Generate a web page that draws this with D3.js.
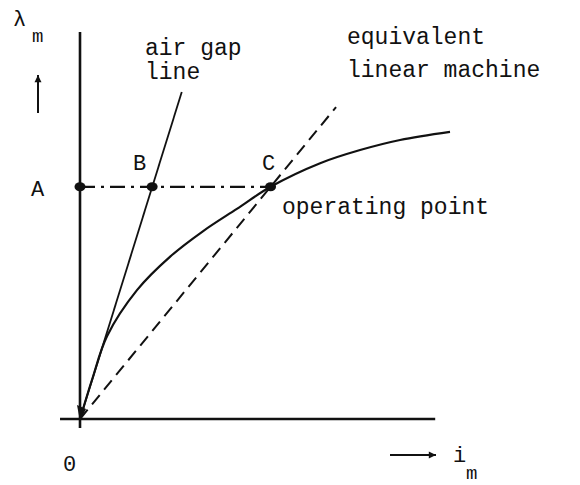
<!DOCTYPE html>
<html>
<head>
<meta charset="utf-8">
<script src="https://cdn.jsdelivr.net/npm/d3@7"></script>
<style>
  html, body { margin: 0; padding: 0; background: #fff; }
  svg { display: block; }
  text { font-family: "Courier New", Courier, "Liberation Mono", monospace; fill: #111; }
</style>
</head>
<body>
<svg id="chart" width="580" height="485"></svg>
<script>
// Magnetising characteristic lambda_m(i_m), arbitrary units
const curveI      = [0, 0.34, 0.73, 1.54, 2.43, 3.32, 4.24, 5.15, 6.49, 7.57, 8.65, 10.0];
const curveLambda = [0, 1.06, 2.14, 3.33, 4.19, 4.85, 5.43, 6.0, 6.61, 6.95, 7.21, 7.42];

// Operating level and the three marked points A, B, C
const operatingLambda = 6.0;
const pointNames = ["A", "B", "C"];
const pointI     = [0, 1.95, 5.15];

// Straight lines through the origin: air gap line and equivalent linear machine
const airGapEnd = [2.75, 8.45];
const linearEnd = [6.92, 8.06];

// Axis extents
const xAxisExtent = [-0.54, 9.6];
const yAxisExtent = [-0.23, 10];

const textLabels = {
  lambda: "λ", sub: "m", current: "i",
  airGap: ["air gap", "line"],
  linear: ["equivalent", "linear machine"],
  operating: "operating point",
  origin: "0"
};

const svg = d3.select("#chart");
const x = d3.scaleLinear().domain([0, 10]).range([80, 450]);
const y = d3.scaleLinear().domain([0, 10]).range([419, 32]);

const ink = "#111";
const line = d3.line().x(d => x(d[0])).y(d => y(d[1]));

// Axes
svg.append("path").attr("d", line([[0, yAxisExtent[0]], [0, yAxisExtent[1]]]))
  .attr("stroke", ink).attr("stroke-width", 2.6).attr("fill", "none");
svg.append("path").attr("d", line([[xAxisExtent[0], 0], [xAxisExtent[1], 0]]))
  .attr("stroke", ink).attr("stroke-width", 2.6).attr("fill", "none");

// Air gap line
svg.append("path").attr("d", line([[0, 0], airGapEnd]))
  .attr("stroke", ink).attr("stroke-width", 1.8).attr("fill", "none");

// Equivalent linear machine (dashed)
svg.append("path").attr("d", line([[0, 0], linearEnd]))
  .attr("stroke", ink).attr("stroke-width", 2).attr("fill", "none")
  .attr("stroke-dasharray", "12,7");

// Magnetising curve
const curveData = curveI.map((v, i) => [v, curveLambda[i]]);
svg.append("path")
  .attr("d", d3.line().x(d => x(d[0])).y(d => y(d[1])).curve(d3.curveCatmullRom.alpha(0.5))(curveData))
  .attr("stroke", ink).attr("stroke-width", 2.2).attr("fill", "none");

// Dash-dot line from A to C
svg.append("path").attr("d", line([[pointI[0], operatingLambda], [pointI[2], operatingLambda]]))
  .attr("stroke", ink).attr("stroke-width", 2.2).attr("fill", "none")
  .attr("stroke-dasharray", "15,6,3,6");

// Marked points
svg.selectAll("ellipse.pt").data(pointI).join("ellipse")
  .attr("class", "pt")
  .attr("cx", d => x(d)).attr("cy", y(operatingLambda))
  .attr("rx", 5.5).attr("ry", 4.5).attr("fill", ink);

// Small arrowhead blob at the origin
svg.append("path")
  .attr("d", `M${x(0)},${y(0) + 2} L${x(0) - 3},${y(0) - 14} L${x(0) + 6},${y(0) - 10} Z`)
  .attr("fill", ink);

// Point labels
const labelPos = [[31, 196], [133, 170], [262, 170]];
svg.selectAll("text.pl").data(pointNames).join("text")
  .attr("class", "pl")
  .attr("x", (d, i) => labelPos[i][0]).attr("y", (d, i) => labelPos[i][1])
  .attr("font-size", 22).text(d => d);

// Annotation texts
function addText(str, tx, ty, size) {
  svg.append("text").attr("x", tx).attr("y", ty).attr("font-size", size).text(str);
}
addText(textLabels.airGap[0], 145, 55, 23);
addText(textLabels.airGap[1], 145, 79, 23);
addText(textLabels.linear[0], 347, 44, 23);
addText(textLabels.linear[1], 347, 77, 23);
addText(textLabels.operating, 282, 214, 23);
addText(textLabels.origin, 63, 471, 22);

// Axis titles
svg.append("text").attr("x", 13).attr("y", 26).attr("font-size", 22)
  .attr("font-family", "DejaVu Serif, serif").text(textLabels.lambda);
addText(textLabels.sub, 32, 42, 19);
addText(textLabels.current, 453, 462, 22);
addText(textLabels.sub, 466, 479, 19);

// Direction arrows
function arrow(x1, y1, x2, y2) {
  svg.append("line").attr("x1", x1).attr("y1", y1).attr("x2", x2).attr("y2", y2)
    .attr("stroke", ink).attr("stroke-width", 2);
  const a = Math.atan2(y2 - y1, x2 - x1), L = 8, w = 0.45;
  svg.append("path")
    .attr("d", `M${x2},${y2} L${x2 - L * Math.cos(a - w)},${y2 - L * Math.sin(a - w)} L${x2 - L * Math.cos(a + w)},${y2 - L * Math.sin(a + w)} Z`)
    .attr("fill", ink);
}
arrow(38, 113, 38, 75);
arrow(390, 455, 436, 455);
</script>
</body>
</html>
